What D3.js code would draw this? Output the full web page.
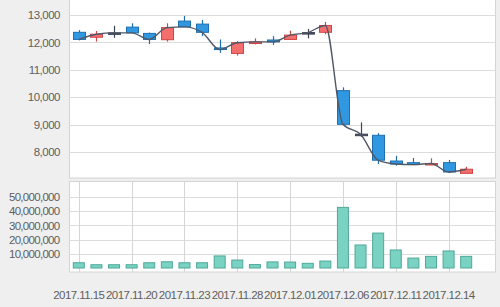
<!DOCTYPE html>
<html>
<head>
<meta charset="utf-8">
<script src="https://cdn.jsdelivr.net/npm/d3@7"></script>
<style>
  html, body { margin: 0; padding: 0; background: #efefef; }
  svg { display: block; }
  text { font-family: "Liberation Sans", Arial, sans-serif; fill: #5e5e5e; }
</style>
</head>
<body>
<svg id="chart" width="500" height="307"></svg>
<script>
// ---- Data ----
const dates = ["2017.11.15","2017.11.16","2017.11.17","2017.11.20","2017.11.21","2017.11.22",
  "2017.11.23","2017.11.24","2017.11.27","2017.11.28","2017.11.29","2017.11.30","2017.12.01",
  "2017.12.04","2017.12.05","2017.12.06","2017.12.07","2017.12.08","2017.12.11","2017.12.12",
  "2017.12.13","2017.12.14","2017.12.15"];
const openP  = [12370,12190,12350,12560,12330,12100,12780,12670,11800,11600,11960,12090,12110,12360,12370,10240,8650,8610,7670,7610,7560,7610,7220];
const highP  = [12450,12420,12610,12700,12360,12700,12970,12820,12110,12050,12150,12230,12430,12490,12750,10360,9080,8690,7860,7780,7770,7710,7460];
const lowP   = [12075,12030,12170,12350,11940,12030,12570,12230,11620,11520,11930,11910,12110,12150,12300,9010,8550,7560,7500,7520,7520,7230,7220];
const closeP = [12110,12300,12350,12350,12110,12540,12570,12370,11740,11990,12020,12020,12270,12360,12620,9010,8650,7700,7560,7540,7580,7270,7370];
const volume = [3.7e6,2.3e6,2.3e6,2.3e6,3.7e6,4.4e6,3.7e6,3.7e6,8.5e6,5.6e6,2.4e6,4.3e6,4.2e6,3.3e6,4.9e6,42.7e6,16.2e6,24.6e6,12.7e6,7.0e6,8.2e6,12.0e6,8.2e6];
const priceTicks = [8000, 9000, 10000, 11000, 12000, 13000];
const volumeTicks = [10e6, 20e6, 30e6, 40e6, 50e6];
const dateTicks = ["2017.11.15","2017.11.20","2017.11.23","2017.11.28","2017.12.01","2017.12.06","2017.12.11","2017.12.14"];

// ---- Layout ----
const svg = d3.select("#chart");
const plotL = 69.5, plotR = 495.5;
const upTop = -1, upBot = 178;
const loTop = 181.5, loBot = 272;

const x = d3.scaleBand().domain(dates).range([70, 475]).padding(0);
const cx = d => x(d) + x.bandwidth() / 2;
const yP = d3.scaleLinear().domain([7050, 13550]).range([178, 0]);
const yV = d3.scaleLinear().domain([0, 60e6]).range([268, 182.8]);

const fmt = d3.format(",");

// plot backgrounds
svg.append("rect").attr("x", plotL).attr("y", upTop).attr("width", plotR - plotL).attr("height", upBot - upTop)
  .attr("fill", "#fff").attr("stroke", "#d4d4d4");
svg.append("rect").attr("x", plotL).attr("y", loTop).attr("width", plotR - plotL).attr("height", loBot - loTop)
  .attr("fill", "#fff").attr("stroke", "#d4d4d4");

// upper grid + axis labels
const gP = svg.append("g");
gP.selectAll("line").data(priceTicks).join("line")
  .attr("x1", plotL).attr("x2", plotR)
  .attr("y1", d => Math.round(yP(d)) + 0.5).attr("y2", d => Math.round(yP(d)) + 0.5)
  .attr("stroke", "#dcdcdc");
gP.selectAll("text").data(priceTicks).join("text")
  .attr("x", 60).attr("y", d => yP(d)).attr("dy", "0.36em")
  .attr("text-anchor", "end").attr("font-size", 11.5).attr("letter-spacing", "-0.5")
  .text(d => fmt(d));

// lower grid
const gV = svg.append("g");
gV.selectAll("line.h").data(volumeTicks).join("line").attr("class", "h")
  .attr("x1", plotL).attr("x2", plotR)
  .attr("y1", d => Math.round(yV(d)) + 0.5).attr("y2", d => Math.round(yV(d)) + 0.5)
  .attr("stroke", "#dcdcdc");
gV.selectAll("line.v").data(dateTicks).join("line").attr("class", "v")
  .attr("x1", d => Math.round(cx(d)) + 0.5).attr("x2", d => Math.round(cx(d)) + 0.5)
  .attr("y1", loTop).attr("y2", loBot)
  .attr("stroke", "#d6d6d6");
gV.selectAll("text").data(volumeTicks).join("text")
  .attr("x", 59.5).attr("y", d => yV(d)).attr("dy", "0.36em")
  .attr("text-anchor", "end").attr("font-size", 11.5).attr("letter-spacing", "-0.7")
  .text(d => fmt(d));

// x axis labels
svg.append("g").selectAll("text").data(dateTicks).join("text")
  .attr("x", d => cx(d)).attr("y", 295).attr("dy", "0.36em")
  .attr("text-anchor", "middle").attr("font-size", 11.5).attr("letter-spacing", "-0.55")
  .text(d => d);

// volume bars
const bw = 11;
svg.append("g").selectAll("rect").data(dates).join("rect")
  .attr("x", d => cx(d) - bw / 2).attr("width", bw)
  .attr("y", (d, i) => yV(volume[i])).attr("height", (d, i) => yV(0) - yV(volume[i]))
  .attr("fill", "#79d2c2").attr("stroke", "#4fa898").attr("stroke-width", 1);

// candles
const cw = 12;
const colorOf = i => closeP[i] > openP[i] ? {f: "#f46e6e", s: "#cf4545"} :
                     closeP[i] < openP[i] ? {f: "#2f98e0", s: "#1f6fb0"} :
                     {f: "#3e4452", s: "#3e4452"};
const gC = svg.append("g");
dates.forEach((d, i) => {
  const c = colorOf(i);
  const xc = Math.round(cx(d)) + 0.5;
  gC.append("line").attr("x1", xc).attr("x2", xc)
    .attr("y1", yP(highP[i])).attr("y2", yP(lowP[i]))
    .attr("stroke", c.s).attr("stroke-width", 1.2);
  const top = yP(Math.max(openP[i], closeP[i]));
  const bot = yP(Math.min(openP[i], closeP[i]));
  gC.append("rect").attr("x", xc - cw / 2).attr("width", cw)
    .attr("y", top).attr("height", Math.max(bot - top, 1.5))
    .attr("fill", c.f).attr("stroke", c.s).attr("stroke-width", 1);
});

// close line
const line = d3.line().x((d, i) => cx(dates[i])).y(d => yP(d)).curve(d3.curveMonotoneX);
svg.append("path").datum(closeP).attr("d", line)
  .attr("fill", "none").attr("stroke", "#505868").attr("stroke-width", 1.4);
</script>
</body>
</html>
